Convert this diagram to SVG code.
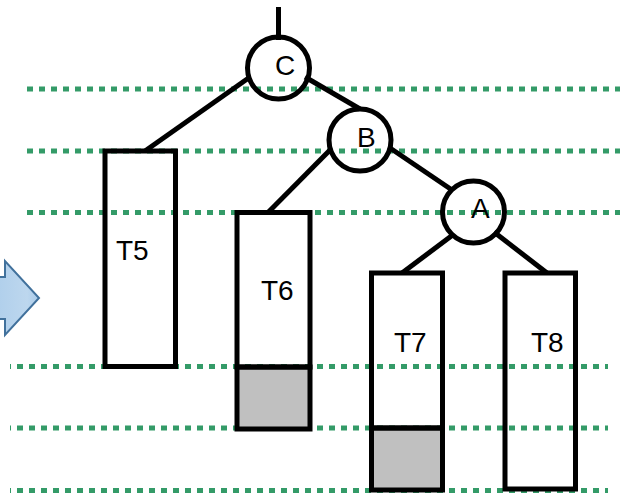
<svg xmlns="http://www.w3.org/2000/svg" width="622" height="495" viewBox="0 0 622 495">
  <defs>
    <linearGradient id="blueGrad" x1="0" y1="0" x2="1" y2="0">
      <stop offset="0" stop-color="#A9CBEA"/>
      <stop offset="0.8" stop-color="#BDD7EE"/>
      <stop offset="1" stop-color="#A9CBEA"/>
    </linearGradient>
  </defs>
  <style>
    .guide { stroke: #349B68; stroke-width: 5; stroke-dasharray: 6 6; fill: none; }
    .edge { stroke: #000; stroke-width: 5; fill: none; }
    .box { fill: none; stroke: #000; stroke-width: 5; }
    .shade { fill: #C0C0C0; stroke: #000; stroke-width: 5; }
    .node { fill: none; stroke: #000; stroke-width: 5; }
    .lbl { font-family: "Liberation Sans", Arial, sans-serif; font-size: 28px; fill: #000; }
  </style>
  <rect x="0" y="0" width="622" height="495" fill="#fff"/>

  <g id="guides">
    <line class="guide" x1="21" y1="89" x2="620" y2="89" stroke-dashoffset="6"/>
    <line class="guide" x1="21" y1="151" x2="620" y2="151" stroke-dashoffset="6"/>
    <line class="guide" x1="21" y1="212.5" x2="620" y2="212.5" stroke-dashoffset="6"/>
    <line class="guide" x1="10" y1="366.5" x2="608" y2="366.5" stroke-dashoffset="5"/>
    <line class="guide" x1="10" y1="428" x2="608" y2="428" stroke-dashoffset="5"/>
    <line class="guide" x1="10" y1="490.5" x2="608" y2="490.5" stroke-dashoffset="5"/>
  </g>

  <g id="big-arrow">
    <polygon points="-20,277 5,277 5,261 39,298 5,335 5,319 -20,319" fill="url(#blueGrad)" stroke="#41719C" stroke-width="2"/>
  </g>

  <g id="connectors">
    <line class="edge" x1="278.5" y1="7" x2="278.5" y2="40"/>
    <line class="edge" x1="250" y1="77" x2="145" y2="151"/>
    <line class="edge" x1="305" y1="77" x2="360" y2="109"/>
    <line class="edge" x1="330" y1="150" x2="268" y2="212.5"/>
    <line class="edge" x1="390" y1="148" x2="452" y2="190"/>
    <line class="edge" x1="454" y1="234" x2="402" y2="273"/>
    <line class="edge" x1="494" y1="232" x2="547" y2="273"/>
  </g>

  <g id="T5">
    <rect class="box" x="105" y="151" width="70.5" height="215.5"/>
    <text class="lbl" x="116" y="260">T5</text>
  </g>
  <g id="T6">
    <rect class="shade" x="237" y="367" width="73" height="62"/>
    <rect class="box" x="237" y="212.5" width="73" height="154.5"/>
    <text class="lbl" x="261" y="300">T6</text>
  </g>
  <g id="T7">
    <rect class="shade" x="371.5" y="428" width="71" height="62"/>
    <rect class="box" x="371.5" y="273" width="71" height="155"/>
    <text class="lbl" x="394" y="352">T7</text>
  </g>
  <g id="T8">
    <rect class="box" x="505" y="273" width="70.5" height="216"/>
    <text class="lbl" x="531" y="352">T8</text>
  </g>

  <g id="C">
    <circle class="node" cx="278.5" cy="68" r="31"/>
    <text class="lbl" x="275" y="75">C</text>
  </g>
  <g id="B">
    <circle class="node" cx="360" cy="140" r="31"/>
    <text class="lbl" x="357" y="147">B</text>
  </g>
  <g id="A">
    <circle class="node" cx="473.5" cy="212" r="31"/>
    <text class="lbl" x="471" y="218">A</text>
  </g>
</svg>
